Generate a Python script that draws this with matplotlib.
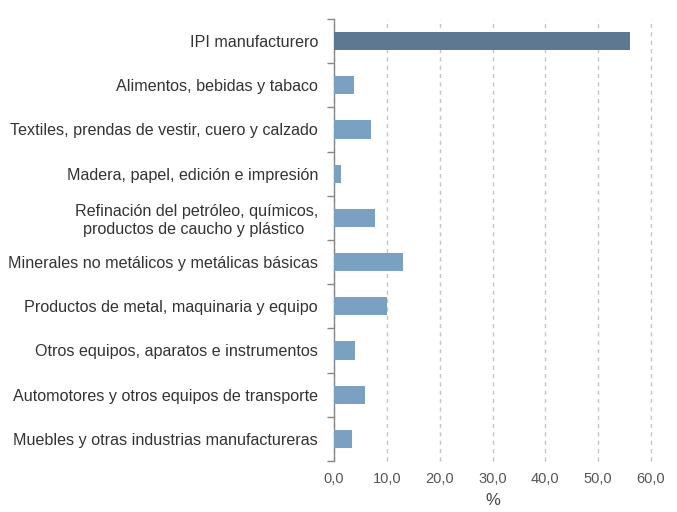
import matplotlib
matplotlib.use("Agg")
import matplotlib.pyplot as plt
import numpy as np

plt.rcParams['font.family'] = ['Liberation Sans', 'DejaVu Sans']

categories = [
    "IPI manufacturero",
    "Alimentos, bebidas y tabaco",
    "Textiles, prendas de vestir, cuero y calzado",
    "Madera, papel, edición e impresión",
    "Refinación del petróleo, químicos,\nproductos de caucho y plástico ",
    "Minerales no metálicos y metálicas básicas",
    "Productos de metal, maquinaria y equipo",
    "Otros equipos, aparatos e instrumentos",
    "Automotores y otros equipos de transporte",
    "Muebles y otras industrias manufactureras",
]
values = [56.1, 3.7, 7.0, 1.3, 7.8, 13.1, 10.0, 4.0, 5.9, 3.4]
xticks = [0, 10, 20, 30, 40, 50, 60]
xtick_labels = ["0,0", "10,0", "20,0", "30,0", "40,0", "50,0", "60,0"]

colors = ["#5f7891"] + ["#7aa0c2"] * (len(values) - 1)

fig = plt.figure(figsize=(6.77, 5.12), dpi=100)
ax = fig.add_axes([0.4934, 0.0996, 0.4682, 0.8634])

y = np.arange(len(categories))
ax.barh(y, values, height=0.41, color=colors, zorder=3)

ax.set_ylim(len(categories) - 0.5, -0.5)
ax.set_xlim(0, 60)

ax.set_yticks(y)
ax.set_yticklabels(categories, fontsize=11.6, color="#333333", multialignment="center")
ax.tick_params(axis="y", length=0, pad=11.5)
# boundary ticks on the category axis
ax.set_yticks(np.arange(len(categories) + 1) - 0.5, minor=True)
ax.tick_params(axis="y", which="minor", length=5, color="#888888", width=1)

ax.set_xticks(xticks)
ax.set_xticklabels(xtick_labels, fontsize=10.5, color="#555555")
ax.tick_params(axis="x", length=0, pad=8)
ax.set_xlabel("%", fontsize=12, color="#444444", labelpad=5)

ax.grid(axis="x", linestyle=(0, (3, 3)), color="#c4c4c4", linewidth=1, zorder=0)
for gl in ax.get_xgridlines():
    gl.set_clip_on(False)
for s in ["top", "right", "bottom"]:
    ax.spines[s].set_visible(False)
ax.spines["left"].set_color("#888888")
ax.spines["left"].set_linewidth(1)

fig.savefig("out.png", dpi=100)
